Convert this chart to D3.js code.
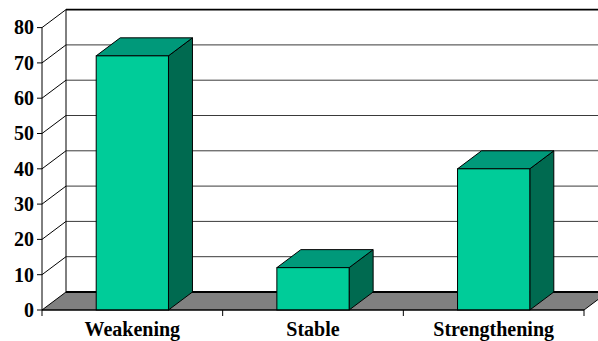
<!DOCTYPE html>
<html>
<head>
<meta charset="utf-8">
<script src="https://cdn.jsdelivr.net/npm/d3@7"></script>
<style>
  html, body { margin: 0; padding: 0; background: #fff; }
  svg { display: block; }
  svg text { font-family: 'Liberation Serif', 'Times New Roman', Times, 'DejaVu Serif', serif; font-weight: 700; fill: #000; }
</style>
</head>
<body>
<svg id="chart" width="598" height="341"></svg>
<script>
// Chart data
const categories = ["Weakening", "Stable", "Strengthening"];
const values = [72, 12, 40];
const yTicks = [0, 10, 20, 30, 40, 50, 60, 70, 80];

// Layout
const plotLeft = 42, plotRight = 584, plotBottom = 310, plotTop = 27.6;
const depth = { dx: 24, dy: -18 };   // oblique offset from front plane to back wall

const colors = {
  front: "#00CC99",
  top: "#00997A",
  side: "#006A50",
  floor: "#808080"
};

const svg = d3.select("#chart");

const x = d3.scaleBand()
  .domain(categories)
  .range([plotLeft, plotRight])
  .paddingInner(0.6)
  .paddingOuter(0.3);

// band without padding, for category tick positions
const xCat = d3.scaleBand().domain(categories).range([plotLeft, plotRight]).padding(0);

const y = d3.scaleLinear().domain([0, 80]).range([plotBottom, plotTop]);

const backX = plotLeft + depth.dx;
const backRight = plotRight + depth.dx;

// Back wall gridlines
const g = svg.append("g");
g.selectAll("line.grid")
  .data(yTicks.filter(d => d > 0 && d < 80))
  .join("line")
  .attr("class", "grid")
  .attr("x1", backX).attr("x2", backRight)
  .attr("y1", d => y(d) + depth.dy).attr("y2", d => y(d) + depth.dy)
  .attr("stroke", "#3a3a3a").attr("stroke-width", 1);

// Top edge of the back wall
g.append("line")
  .attr("x1", backX).attr("x2", backRight)
  .attr("y1", y(80) + depth.dy).attr("y2", y(80) + depth.dy)
  .attr("stroke", "#000").attr("stroke-width", 1.6);

// Left edge of the back wall
g.append("line")
  .attr("x1", backX).attr("x2", backX)
  .attr("y1", y(80) + depth.dy).attr("y2", y(0) + depth.dy)
  .attr("stroke", "#000").attr("stroke-width", 1);

// Side wall diagonals
g.selectAll("line.side")
  .data(yTicks.filter(d => d > 0))
  .join("line")
  .attr("class", "side")
  .attr("x1", plotLeft).attr("y1", d => y(d))
  .attr("x2", backX).attr("y2", d => y(d) + depth.dy)
  .attr("stroke", "#000").attr("stroke-width", 1);

// Floor
g.append("polygon")
  .attr("points", [
    [plotLeft, y(0)], [plotRight, y(0)],
    [backRight, y(0) + depth.dy], [backX, y(0) + depth.dy]
  ].map(p => p.join(",")).join(" "))
  .attr("fill", colors.floor)
  .attr("stroke", "#000").attr("stroke-width", 1);

g.append("line")
  .attr("x1", backX).attr("x2", backRight)
  .attr("y1", y(0) + depth.dy).attr("y2", y(0) + depth.dy)
  .attr("stroke", "#000").attr("stroke-width", 2);

// Bars
const bars = svg.append("g").selectAll("g.bar")
  .data(categories.map((c, i) => ({ c, v: values[i] })))
  .join("g").attr("class", "bar");

bars.each(function(d) {
  const gb = d3.select(this);
  const x0 = x(d.c), x1 = x(d.c) + x.bandwidth();
  const y0 = y(0), y1 = y(d.v);
  const dx = depth.dx, dy = depth.dy;
  const pts = a => a.map(p => p.join(",")).join(" ");
  // side face
  gb.append("polygon")
    .attr("points", pts([[x1, y1], [x1 + dx, y1 + dy], [x1 + dx, y0 + dy], [x1, y0]]))
    .attr("fill", colors.side).attr("stroke", "#000").attr("stroke-width", 1)
    .attr("stroke-linejoin", "round");
  // top face
  gb.append("polygon")
    .attr("points", pts([[x0, y1], [x0 + dx, y1 + dy], [x1 + dx, y1 + dy], [x1, y1]]))
    .attr("fill", colors.top).attr("stroke", "#000").attr("stroke-width", 1)
    .attr("stroke-linejoin", "round");
  // front face
  gb.append("rect")
    .attr("x", x0).attr("y", y1)
    .attr("width", x1 - x0).attr("height", y0 - y1)
    .attr("fill", colors.front).attr("stroke", "#000").attr("stroke-width", 1);
});

// Y axis
const yAxis = svg.append("g");
yAxis.append("line")
  .attr("x1", plotLeft).attr("x2", plotLeft)
  .attr("y1", y(80)).attr("y2", y(0))
  .attr("stroke", "#000").attr("stroke-width", 1);
yAxis.selectAll("line.tick")
  .data(yTicks).join("line").attr("class", "tick")
  .attr("x1", plotLeft - 5).attr("x2", plotLeft)
  .attr("y1", d => y(d)).attr("y2", d => y(d))
  .attr("stroke", "#000");
yAxis.selectAll("text")
  .data(yTicks).join("text")
  .attr("x", plotLeft - 8).attr("y", d => y(d))
  .attr("text-anchor", "end").attr("dy", "0.34em")
  .attr("font-size", 20)
  .text(d => d);

// X axis
const xAxis = svg.append("g");
xAxis.append("line")
  .attr("x1", plotLeft).attr("x2", plotRight)
  .attr("y1", y(0)).attr("y2", y(0))
  .attr("stroke", "#000").attr("stroke-width", 1);
const xTickPos = categories.map(c => xCat(c)).concat([plotRight]);
xAxis.selectAll("line.tick")
  .data(xTickPos).join("line").attr("class", "tick")
  .attr("x1", d => d).attr("x2", d => d)
  .attr("y1", y(0)).attr("y2", y(0) + 6)
  .attr("stroke", "#000");
xAxis.selectAll("text")
  .data(categories).join("text")
  .attr("x", d => x(d) + x.bandwidth() / 2)
  .attr("y", 336)
  .attr("text-anchor", "middle")
  .attr("font-size", 20)
  .text(d => d);
</script>
</body>
</html>
